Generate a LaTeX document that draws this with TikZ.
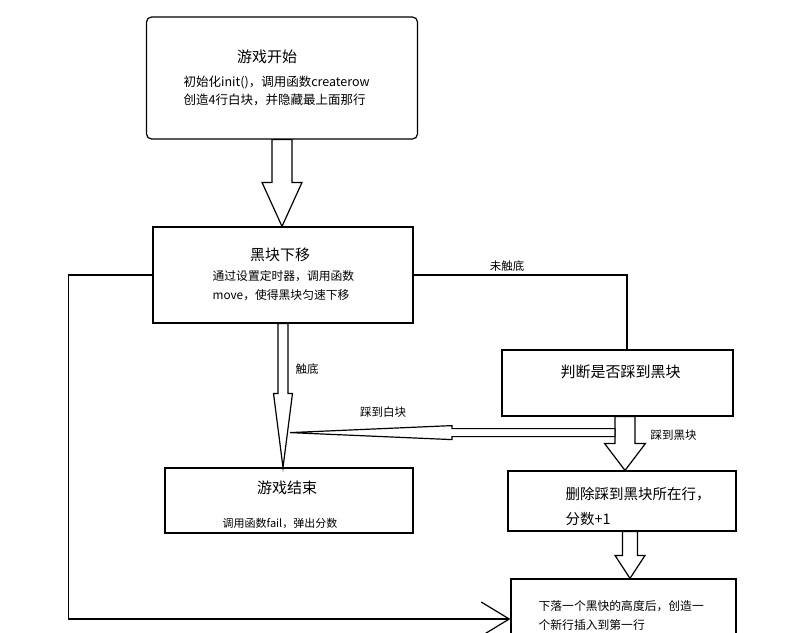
\documentclass[tikz,border=0pt]{standalone}
\usepackage{fontspec}
\setmainfont{Noto Sans CJK SC}
\usepackage{tikz}
\usetikzlibrary{calc, positioning, arrows.meta}

% 空心粗箭头: #1 起点, #2 箭尖, #3 箭杆半宽, #4 箭头半宽, #5 箭头长度
\newcommand{\fatarrow}[5]{%
    \coordinate (fa-s) at #1;
    \coordinate (fa-t) at #2;
    \coordinate (fa-h) at ($(fa-t)!#5!(fa-s)$);
    \draw[fat] ($(fa-s)!#3!90:(fa-t)$) -- ($(fa-h)!#3!90:(fa-t)$)
        -- ($(fa-h)!#4!90:(fa-t)$) -- (fa-t) -- ($(fa-h)!#4!-90:(fa-t)$)
        -- ($(fa-h)!#3!-90:(fa-t)$) -- ($(fa-s)!#3!-90:(fa-t)$) -- cycle;
}

\begin{document}
\begin{tikzpicture}[>=latex, x=1pt, y=-1pt, line width=1.2pt,
    box/.style={draw, rectangle, inner sep=0pt},
    fat/.style={draw, fill=white, line join=miter},
    title/.style={font=\fontsize{15}{18}\selectfont, inner sep=0pt},
    body/.style={font=\fontsize{11.8}{19}\selectfont, align=left, anchor=west, inner sep=0pt},
    lbl/.style={font=\fontsize{11.5}{14}\selectfont, inner sep=0pt}]
    \useasboundingbox (0,0) rectangle (800,632);

    % 1. 各个方框
    \node[box, rounded corners=5pt, minimum width=271pt, minimum height=122pt] (start) at (282,78) {};
    \node[box, minimum width=260pt, minimum height=96pt] (move) at (283,275) {};
    \node[box, minimum width=231pt, minimum height=66pt] (judge) at (617.5,383) {};
    \node[box, minimum width=248pt, minimum height=65pt] (over) at (289,500.5) {};
    \node[box, minimum width=228pt, minimum height=60pt] (del) at (622,501) {};
    \node[box, minimum width=225pt, minimum height=80pt] (next) at (623.5,619) {};

    % 2. 方框里的文字
    \node[title] (startT) at (267,57) {游戏开始};
    \node[body, font=\fontsize{12.5}{18.5}\selectfont] (startB) at (183,91) {初始化init()，调用函数createrow\\创造4行白块，并隐藏最上面那行};
    \node[title] (moveT) at (280,255) {黑块下移};
    \node[body] (moveB) at (212,285.5) {通过设置定时器，调用函数\\move，使得黑块匀速下移};
    \node[title, anchor=west] (judgeT) at (560,372) {判断是否踩到黑块};
    \node[title] (overT) at (287,488) {游戏结束};
    \node[font=\fontsize{11}{14}\selectfont, inner sep=0pt] (overB) at (280,523) {调用函数fail，弹出分数};
    \node[body, font=\fontsize{14.5}{25}\selectfont] (delB) at (565,506.5) {删除踩到黑块所在行，\\分数+1};
    \node[body] (nextB) at (538,615.5) {下落一个黑快的高度后，创造一\\个新行插入到第一行};

    % 3. 空心箭头
    \fatarrow{(start.south)}{(start.south |- move.north)}{10pt}{20pt}{44pt}
    \fatarrow{(move.south)}{(move.south |- over.north)}{5pt}{9.5pt}{74pt}
    \coordinate (jb) at ($(judge.south)+(7.5,0)$);
    \fatarrow{(jb)}{(jb |- del.north)}{10pt}{20.5pt}{27pt}
    \coordinate (wb) at ($(jb)+(-10,16)$);
    \coordinate (wt) at ($(wb -| move.south)+(7,0)$);
    \fatarrow{(wb)}{(wt)}{4pt}{7pt}{162pt}
    \coordinate (db) at ($(del.south)+(8,0)$);
    \fatarrow{(db)}{(db |- next.north)}{7.5pt}{15pt}{23pt}

    % 4. 折线
    \draw (move.east) -| ($(judge.north)+(9.5,0)$);
    \draw[-{Straight Barb[length=28pt, width=34pt]}] (move.west) -- ++(-84,0) |- (next.west);

    % 5. 线上的标注
    \node[lbl] (notBottom) at (507,266) {未触底};
    \node[lbl] (bottom) at (307,369) {触底};
    \node[lbl] (white) at (383,412) {踩到白块};
    \node[lbl, anchor=west] (black) at (650,435) {踩到黑块};

\end{tikzpicture}
\end{document}
